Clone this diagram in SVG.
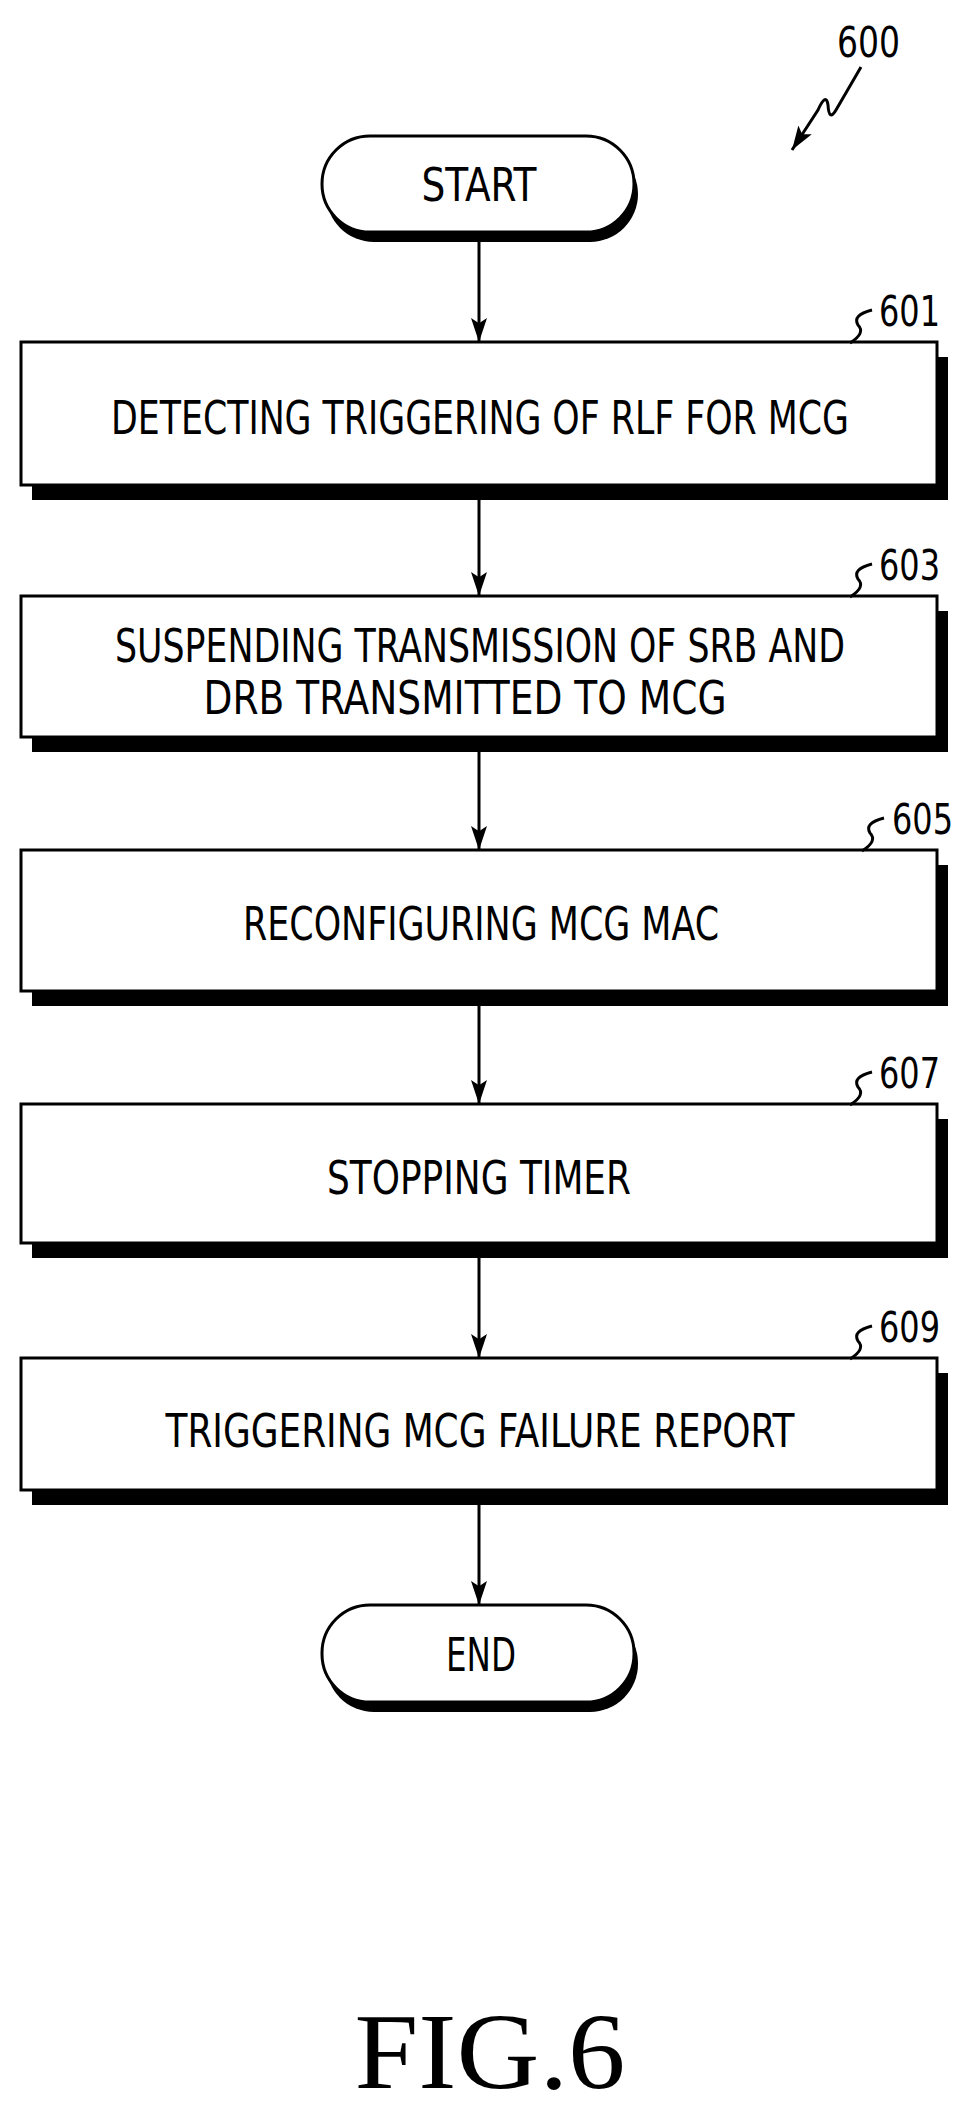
<svg xmlns="http://www.w3.org/2000/svg" width="964" height="2108" viewBox="0 0 964 2108">
<style>
.b{fill:#fff;stroke:#000;stroke-width:3}
.s{fill:#000}
.t{font-family:"DejaVu Sans Condensed","Liberation Sans Narrow","Liberation Sans",sans-serif;font-size:46px;fill:#000;text-anchor:middle}
.l{font-family:"DejaVu Sans Condensed","Liberation Sans Narrow","Liberation Sans",sans-serif;font-size:42px;fill:#000}
.c{stroke:#000;stroke-width:3;fill:none}
</style>
<defs>
<marker id="ah" markerWidth="24" markerHeight="36" refX="36" refY="12" orient="auto" markerUnits="userSpaceOnUse" viewBox="0 0 36 24">
<path d="M0,0 L8,12 L0,24 L36,12 Z" fill="#000"/>
</marker>
</defs>
<g id="label600">
<text class="l" x="837" y="57" textLength="63" lengthAdjust="spacingAndGlyphs">600</text>
<path class="c" d="M861,67 L836,110 Q829,122 828,105 Q826,92 818,110 L792,150" marker-end="url(#ah)"/>
</g>
<g id="connectors">
<line class="c" x1="479" y1="242" x2="479" y2="342" marker-end="url(#ah)"/>
<line class="c" x1="479" y1="500" x2="479" y2="596" marker-end="url(#ah)"/>
<line class="c" x1="479" y1="752" x2="479" y2="850" marker-end="url(#ah)"/>
<line class="c" x1="479" y1="1006" x2="479" y2="1104" marker-end="url(#ah)"/>
<line class="c" x1="479" y1="1258" x2="479" y2="1358" marker-end="url(#ah)"/>
<line class="c" x1="479" y1="1505" x2="479" y2="1605" marker-end="url(#ah)"/>
</g>
<g id="start">
<rect class="s" x="326" y="146" width="312" height="96" rx="48"/>
<rect class="b" x="322" y="136" width="312" height="96" rx="48"/>
<text class="t" x="479" y="201" textLength="115" lengthAdjust="spacingAndGlyphs">START</text>
</g>
<g id="n601">
<rect class="s" x="32" y="357" width="916" height="143"/>
<rect class="b" x="21" y="342" width="916" height="143"/>
<text class="t" x="480" y="434" textLength="738" lengthAdjust="spacingAndGlyphs">DETECTING TRIGGERING OF RLF FOR MCG</text>
<text class="l" x="879" y="326" textLength="61" lengthAdjust="spacingAndGlyphs">601</text>
<path class="c" d="M850,343 Q866,333 858,325 Q852,315 872,310" />
</g>
<g id="n603">
<rect class="s" x="32" y="611" width="916" height="141"/>
<rect class="b" x="21" y="596" width="916" height="141"/>
<text class="t" x="480" y="662" textLength="730" lengthAdjust="spacingAndGlyphs">SUSPENDING TRANSMISSION OF SRB AND</text>
<text class="t" x="465" y="714" textLength="523" lengthAdjust="spacingAndGlyphs">DRB TRANSMITTED TO MCG</text>
<text class="l" x="879" y="580" textLength="61" lengthAdjust="spacingAndGlyphs">603</text>
<path class="c" d="M850,597 Q866,587 858,579 Q852,569 872,564" />
</g>
<g id="n605">
<rect class="s" x="32" y="865" width="916" height="141"/>
<rect class="b" x="21" y="850" width="916" height="141"/>
<text class="t" x="481" y="940" textLength="476" lengthAdjust="spacingAndGlyphs">RECONFIGURING MCG MAC</text>
<text class="l" x="892" y="834" textLength="61" lengthAdjust="spacingAndGlyphs">605</text>
<path class="c" d="M862,851 Q878,841 870,833 Q864,823 884,818" />
</g>
<g id="n607">
<rect class="s" x="32" y="1119" width="916" height="139"/>
<rect class="b" x="21" y="1104" width="916" height="139"/>
<text class="t" x="479" y="1194" textLength="304" lengthAdjust="spacingAndGlyphs">STOPPING TIMER</text>
<text class="l" x="879" y="1088" textLength="61" lengthAdjust="spacingAndGlyphs">607</text>
<path class="c" d="M850,1105 Q866,1095 858,1087 Q852,1077 872,1072" />
</g>
<g id="n609">
<rect class="s" x="32" y="1373" width="916" height="132"/>
<rect class="b" x="21" y="1358" width="916" height="132"/>
<text class="t" x="480" y="1447" textLength="629" lengthAdjust="spacingAndGlyphs">TRIGGERING MCG FAILURE REPORT</text>
<text class="l" x="879" y="1342" textLength="61" lengthAdjust="spacingAndGlyphs">609</text>
<path class="c" d="M850,1359 Q866,1349 858,1341 Q852,1331 872,1326" />
</g>
<g id="end">
<rect class="s" x="326" y="1615" width="312" height="97" rx="48"/>
<rect class="b" x="322" y="1605" width="312" height="97" rx="48"/>
<text class="t" x="481" y="1671" textLength="70" lengthAdjust="spacingAndGlyphs">END</text>
</g>
<text x="490" y="2088" font-family="'Liberation Serif',serif" font-size="108" text-anchor="middle" textLength="271" lengthAdjust="spacingAndGlyphs">FIG.6</text>
</svg>
